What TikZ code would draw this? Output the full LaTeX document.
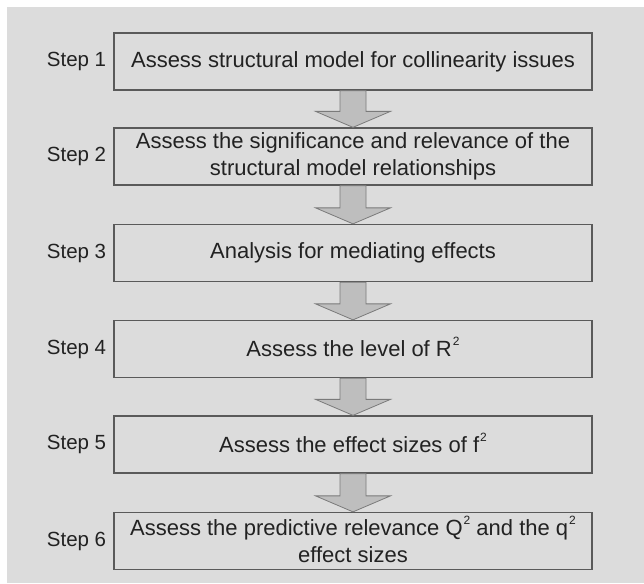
\documentclass[tikz,border=0pt]{standalone}
\usepackage{fontspec}
\setmainfont{Liberation Sans}
\usetikzlibrary{calc}
\definecolor{panel}{HTML}{DCDCDC}
\definecolor{boxline}{HTML}{5A5A5A}
\definecolor{arrowfill}{HTML}{BEBEBE}
\definecolor{arrowline}{HTML}{7A7A7A}
\definecolor{ink}{HTML}{222222}
\tikzset{
  stepbox/.style={draw=boxline, line width=1.3pt, minimum width=478pt, minimum height=57pt,
    inner sep=0pt, align=center, text=ink, font=\fontsize{22pt}{27pt}\selectfont},
  steplabel/.style={anchor=east, inner sep=0pt, text=ink, font=\fontsize{20.5pt}{24pt}\selectfont},
  blockarrow/.style={fill=arrowfill, draw=arrowline, line width=0.8pt, line join=miter},
}
% block arrow from the bottom of one box to the top of the next
\newcommand{\blockarrow}[2]{%
  \draw[blockarrow] ($(#1.south)+(-13pt,0)$) -- ($(#2.north)+(-13pt,16pt)$)
    -- ($(#2.north)+(-37.5pt,16pt)$) -- (#2.north) -- ($(#2.north)+(37.5pt,16pt)$)
    -- ($(#2.north)+(13pt,16pt)$) -- ($(#1.south)+(13pt,0)$) -- cycle;}
% small raised "2" that does not change the line height
\newcommand{\sq}{\kern1pt\raisebox{11pt}[0pt][0pt]{\fontsize{12pt}{12pt}\selectfont 2}}
\begin{document}
\begin{tikzpicture}[x=1pt,y=-1pt]
\useasboundingbox (0,0) rectangle (644,583);
\fill[white] (0,0) rectangle (644,583);
\fill[panel] (7,7) rectangle (644,583);

\node[stepbox] (b1) at (353,61.5) {Assess structural model for collinearity issues};
\node[stepbox] (b2) at (353,156.5) {Assess the significance and relevance of the\\structural model relationships};
\node[stepbox] (b3) at (353,253) {Analysis for mediating effects};
\node[stepbox] (b4) at (353,349) {Assess the level of R\sq};
\node[stepbox] (b5) at (353,444.5) {Assess the effect sizes of f\sq};
\node[stepbox] (b6) at (353,541) {Assess the predictive relevance Q\sq{} and the q\sq\\effect sizes};

\blockarrow{b1}{b2}
\blockarrow{b2}{b3}
\blockarrow{b3}{b4}
\blockarrow{b4}{b5}
\blockarrow{b5}{b6}

\foreach \i in {1,...,6}{
  \node[steplabel] (s\i) at ($(b\i.west)+(-7pt,0)$) {Step \i};
}
\end{tikzpicture}
\end{document}
